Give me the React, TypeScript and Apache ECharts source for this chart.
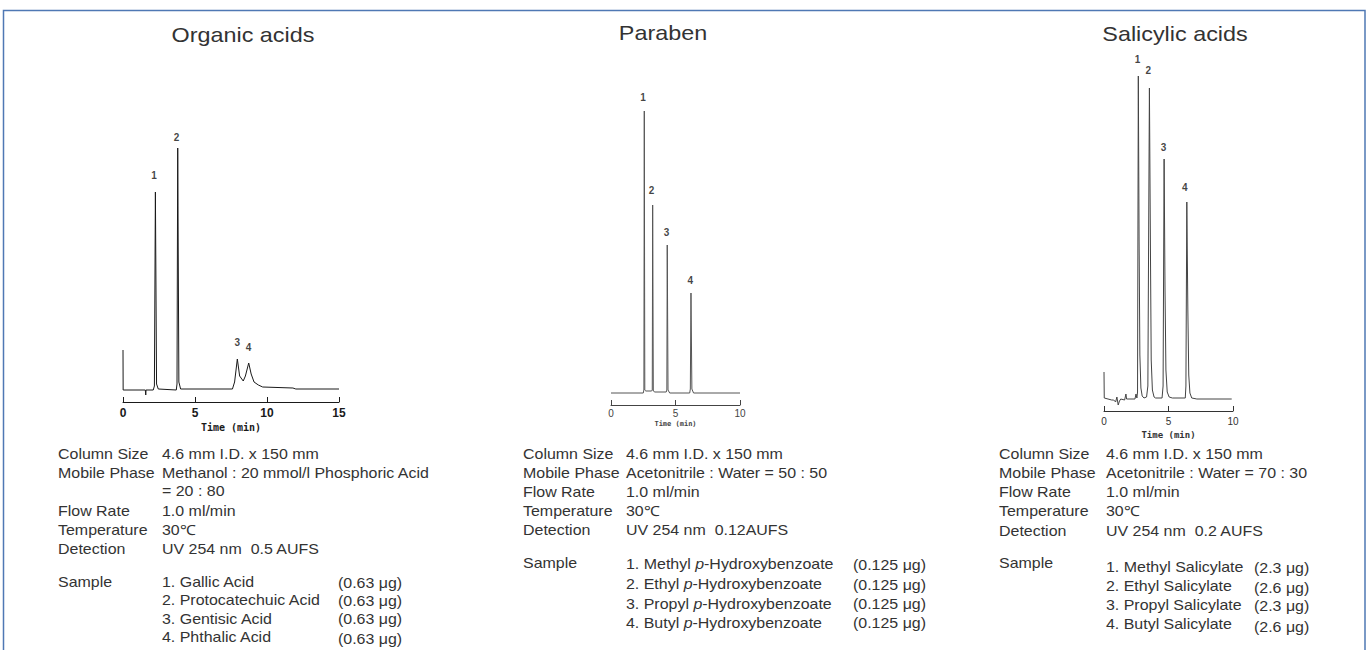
import React, { useEffect, useRef } from "react";
import * as echarts from "echarts";

// ---------- DATA ----------
const panelTitles = ["Organic acids", "Paraben", "Salicylic acids"];
const axisName = "Time (min)";

// chromatogram traces: [time (min), detector response (rel.)]
const organicTrace: [number, number][] = [
  [0, 40], [0.01, 0], [1.55, 0], [1.58, -5], [1.6, 0], [2.1, 0], [2.18, 4], [2.25, 198],
  [2.33, 6], [2.45, 1], [3.7, 0], [3.75, 6], [3.8, 242], [3.88, 8], [4.0, 1],
  [7.6, 1], [7.75, 8], [7.94, 31], [8.1, 14], [8.35, 9], [8.5, 14], [8.73, 27],
  [8.9, 16], [9.1, 8], [9.4, 5], [9.7, 3], [11.8, 2], [12.0, 1], [15, 1],
];
const parabenTrace: [number, number][] = [
  [0, 0], [2.5, 0], [2.55, 3], [2.58, 282], [2.62, 3], [2.7, 2], [3.15, 2], [3.2, 3],
  [3.23, 188], [3.28, 2], [3.4, 1], [4.28, 1], [4.33, 3], [4.36, 148], [4.42, 3],
  [4.55, 0], [6.1, 0], [6.15, 4], [6.2, 100], [6.27, 4], [6.4, 0], [10, 0],
];
const salicylicTrace: [number, number][] = [
  [0, 28], [0.02, 2], [0.6, 0], [0.75, 0], [0.9, -2], [1.0, 3], [1.1, -5], [1.2, -1],
  [1.3, 1], [1.6, 0], [1.7, 6], [1.75, 1], [2.4, 1], [2.48, 6], [2.55, 2], [2.6, 8],
  [2.66, 324], [2.72, 160], [2.78, 45], [2.86, 12], [2.96, 4], [3.1, 2], [3.3, 3],
  [3.4, 14], [3.52, 312], [3.6, 150], [3.66, 40], [3.75, 10], [3.88, 3], [4.0, 2],
  [4.5, 2], [4.58, 14], [4.66, 241], [4.73, 110], [4.8, 30], [4.9, 8], [5.05, 3],
  [5.3, 2], [6.3, 2], [6.35, 14], [6.42, 198], [6.5, 90], [6.57, 25], [6.66, 7],
  [6.8, 2], [7.2, 1], [9.9, 1],
];

// peak number labels
const peakNames = ["1", "2", "3", "4"];
const organicLabelTimes = [2.15, 3.71, 7.94, 8.71];
const organicLabelHeights = [215, 253, 48, 43];
const parabenLabelTimes = [2.48, 3.15, 4.31, 6.15];
const parabenLabelHeights = [296, 203, 161, 113];
const salicylicLabelTimes = [2.59, 3.44, 4.61, 6.27];
const salicylicLabelHeights = [341, 330, 253, 213];

// x tick settings
const organicMaxTime = 15;
const shortMaxTime = 10;
const tickStep = 5;

// conditions
const organicConditions: [string, string][] = [
  ["Column Size", "4.6 mm I.D. x 150 mm"],
  ["Mobile Phase", "Methanol : 20 mmol/l Phosphoric Acid"],
  ["", "= 20 : 80"],
  ["Flow Rate", "1.0 ml/min"],
  ["Temperature", "30℃"],
  ["Detection", "UV 254 nm  0.5 AUFS"],
];
const parabenConditions: [string, string][] = [
  ["Column Size", "4.6 mm I.D. x 150 mm"],
  ["Mobile Phase", "Acetonitrile : Water = 50 : 50"],
  ["Flow Rate", "1.0 ml/min"],
  ["Temperature", "30℃"],
  ["Detection", "UV 254 nm  0.12AUFS"],
];
const salicylicConditions: [string, string][] = [
  ["Column Size", "4.6 mm I.D. x 150 mm"],
  ["Mobile Phase", "Acetonitrile : Water = 70 : 30"],
  ["Flow Rate", "1.0 ml/min"],
  ["Temperature", "30℃"],
  ["Detection", "UV 254 nm  0.2 AUFS"],
];

const organicSamples: [string, string][] = [
  ["1. Gallic Acid", "(0.63 μg)"],
  ["2. Protocatechuic Acid", "(0.63 μg)"],
  ["3. Gentisic Acid", "(0.63 μg)"],
  ["4. Phthalic Acid", "(0.63 μg)"],
];
const parabenSamples: [string, string][] = [
  ["1. Methyl {i|p}-Hydroxybenzoate", "(0.125 μg)"],
  ["2. Ethyl {i|p}-Hydroxybenzoate", "(0.125 μg)"],
  ["3. Propyl {i|p}-Hydroxybenzoate", "(0.125 μg)"],
  ["4. Butyl {i|p}-Hydroxybenzoate", "(0.125 μg)"],
];
const salicylicSamples: [string, string][] = [
  ["1. Methyl Salicylate", "(2.3 μg)"],
  ["2. Ethyl Salicylate", "(2.6 μg)"],
  ["3. Propyl Salicylate", "(2.3 μg)"],
  ["4. Butyl Salicylate", "(2.6 μg)"],
];

// ---------- LAYOUT / STYLE ----------
const TEXT_FONT = '"Liberation Sans", Arial, Helvetica, sans-serif';
const TEXT_COLOR = "#333";
const TEXT_SIZE = 14;
const SX = 1.14;

type BlockLayout = {
  xLabel: number;
  xValue: number;
  xAmount: number;
  condY: number[];
  sampleY: number;
  itemY: number[];
  amountY: number[];
};

function textEl(text: string, x: number, y: number, extra: any = {}) {
  return {
    type: "text",
    x,
    y,
    scaleX: SX,
    silent: true,
    style: {
      text,
      fill: TEXT_COLOR,
      fontSize: TEXT_SIZE,
      fontFamily: TEXT_FONT,
      verticalAlign: "middle",
      align: "left",
      ...extra,
    },
  };
}

function buildBlock(conds: [string, string][], samples: [string, string][], L: BlockLayout) {
  const els: any[] = [];
  conds.forEach((c, i) => {
    if (c[0]) els.push(textEl(c[0], L.xLabel, L.condY[i]));
    els.push(textEl(c[1], L.xValue, L.condY[i]));
  });
  els.push(textEl("Sample", L.xLabel, L.sampleY));
  samples.forEach((s, i) => {
    els.push(
      textEl(s[0], L.xValue, L.itemY[i], {
        rich: {
          i: { fontStyle: "italic", fontSize: TEXT_SIZE, fontFamily: TEXT_FONT, fill: TEXT_COLOR },
        },
      })
    );
    els.push(textEl(s[1], L.xAmount, L.amountY[i]));
  });
  return els;
}

function labelData(times: number[], heights: number[]) {
  return times.map((t, i) => ({ value: [t, heights[i]], name: peakNames[i] }));
}

function xAxisCfg(gridIndex: number, max: number, opts: any) {
  return {
    gridIndex,
    type: "value",
    min: 0,
    max,
    interval: tickStep,
    splitLine: { show: false },
    axisLine: { show: true, onZero: false, lineStyle: { color: opts.color, width: 1 } },
    axisTick: { show: true, inside: true, length: 5, lineStyle: { color: opts.color, width: 1 } },
    axisLabel: {
      color: opts.color,
      fontSize: opts.labelSize,
      fontWeight: opts.labelWeight,
      fontFamily: "Arial, sans-serif",
      margin: opts.labelMargin,
    },
    name: axisName,
    nameLocation: "middle",
    nameGap: opts.nameGap,
    nameTextStyle: {
      color: opts.color,
      fontSize: opts.nameSize,
      fontWeight: "bold",
      fontFamily: '"DejaVu Sans Mono", monospace',
    },
  };
}

export default function App() {
  const ref = useRef<HTMLDivElement>(null);

  useEffect(() => {
    if (!ref.current) return;
    const chart = echarts.init(ref.current, undefined, { renderer: "svg" });

    const lineSeries = (data: [number, number][], idx: number, color: string) => ({
      type: "line",
      xAxisIndex: idx,
      yAxisIndex: idx,
      data,
      showSymbol: false,
      symbol: "none",
      silent: true,
      lineStyle: { color, width: 1 },
    });

    const labelSeries = (data: any[], idx: number) => ({
      type: "scatter",
      xAxisIndex: idx,
      yAxisIndex: idx,
      data,
      symbolSize: 0,
      silent: true,
      label: {
        show: true,
        position: "inside",
        formatter: "{b}",
        color: "#111",
        fontSize: 10,
        fontWeight: "bold",
        fontFamily: "Arial, sans-serif",
      },
    });

    const titleEl = (text: string, x: number, y: number) => ({
      type: "text",
      x,
      y,
      scaleX: SX,
      silent: true,
      style: {
        text,
        fill: TEXT_COLOR,
        fontSize: 20.5,
        fontFamily: TEXT_FONT,
        align: "center",
        verticalAlign: "middle",
      },
    });

    const graphics: any[] = [
      {
        type: "polyline",
        silent: true,
        shape: { points: [[3.5, 650], [3.5, 10.5], [1365, 10.5], [1365, 650]] },
        style: { stroke: "#4f78b4", lineWidth: 1.5, fill: "none" },
      },
      titleEl(panelTitles[0], 243, 35),
      titleEl(panelTitles[1], 663, 33),
      titleEl(panelTitles[2], 1175, 34),
      ...buildBlock(organicConditions, organicSamples, {
        xLabel: 58,
        xValue: 162,
        xAmount: 338,
        condY: [454, 473, 491, 511, 530, 549],
        sampleY: 582,
        itemY: [582, 600, 619, 637],
        amountY: [583, 601, 619, 639],
      }),
      ...buildBlock(parabenConditions, parabenSamples, {
        xLabel: 523,
        xValue: 626,
        xAmount: 853,
        condY: [454, 473, 492, 511, 530],
        sampleY: 563,
        itemY: [564, 584, 604, 623],
        amountY: [565, 585, 604, 623],
      }),
      ...buildBlock(salicylicConditions, salicylicSamples, {
        xLabel: 999,
        xValue: 1106,
        xAmount: 1254,
        condY: [454, 473, 492, 511, 531],
        sampleY: 563,
        itemY: [567, 586, 605, 624],
        amountY: [568, 588, 606, 627],
      }),
    ];

    chart.setOption({
      animation: false,
      backgroundColor: "#ffffff",
      grid: [
        { left: 123, top: 128, width: 216, height: 274 },
        { left: 611, top: 83, width: 129, height: 322 },
        { left: 1104, top: 50, width: 129, height: 361 },
      ],
      xAxis: [
        xAxisCfg(0, organicMaxTime, { color: "#1a1a1a", labelSize: 12, labelWeight: "bold", labelMargin: 5, nameGap: 20, nameSize: 10 }),
        xAxisCfg(1, shortMaxTime, { color: "#444", labelSize: 10, labelWeight: "normal", labelMargin: 3, nameGap: 15, nameSize: 7 }),
        xAxisCfg(2, shortMaxTime, { color: "#333", labelSize: 10, labelWeight: "normal", labelMargin: 5, nameGap: 17, nameSize: 9 }),
      ],
      yAxis: [
        { gridIndex: 0, type: "value", min: -12, max: 262, show: false },
        { gridIndex: 1, type: "value", min: -12, max: 310, show: false },
        { gridIndex: 2, type: "value", min: -11, max: 350, show: false },
      ],
      series: [
        lineSeries(organicTrace, 0, "#1a1a1a"),
        lineSeries(parabenTrace, 1, "#555"),
        lineSeries(salicylicTrace, 2, "#444"),
        labelSeries(labelData(organicLabelTimes, organicLabelHeights), 0),
        labelSeries(labelData(parabenLabelTimes, parabenLabelHeights), 1),
        labelSeries(labelData(salicylicLabelTimes, salicylicLabelHeights), 2),
      ],
      graphic: graphics,
    });

    return () => chart.dispose();
  }, []);

  return (
    <div
      ref={ref}
      style={{ position: "fixed", left: 0, top: 0, width: 1366, height: 650, background: "#fff" }}
    />
  );
}
